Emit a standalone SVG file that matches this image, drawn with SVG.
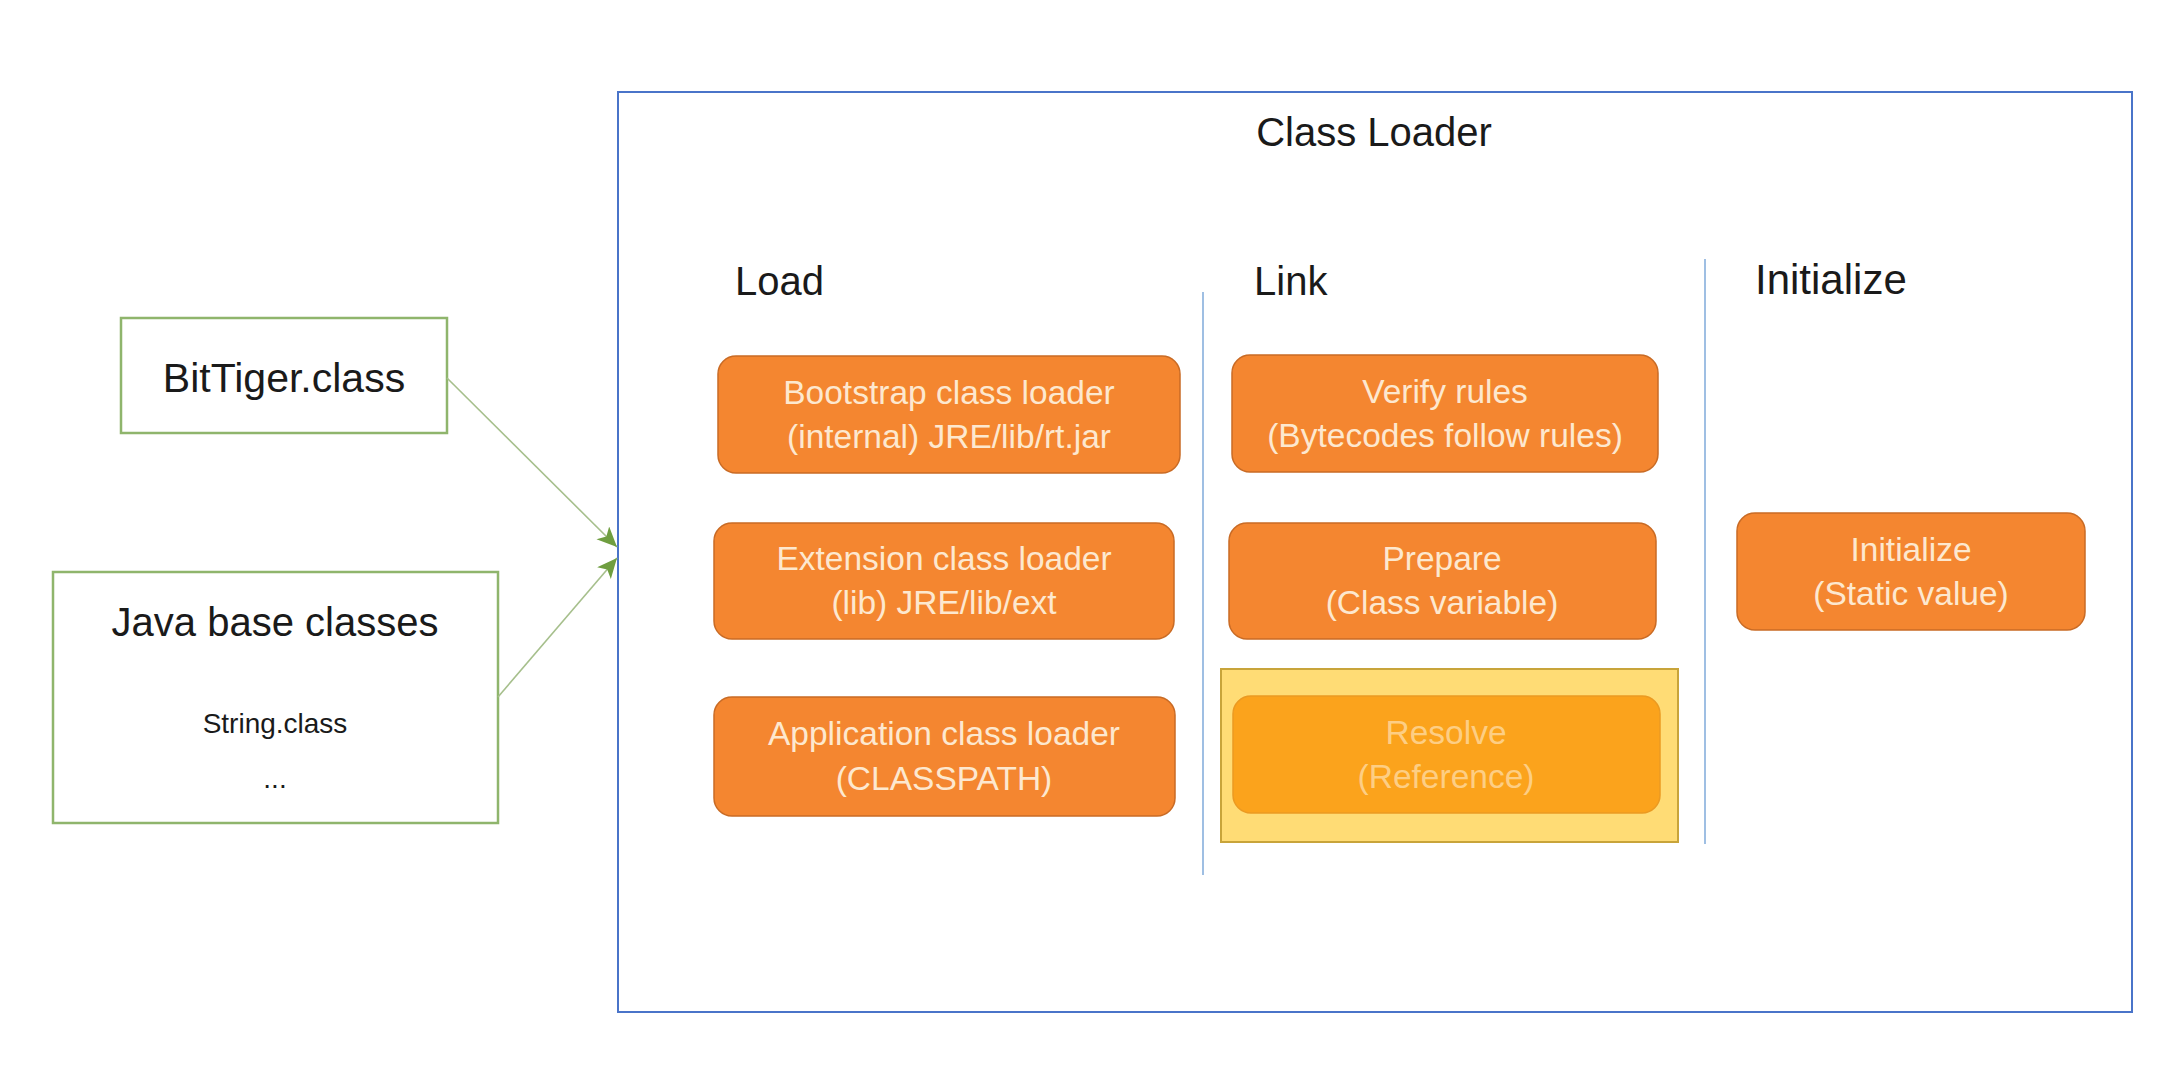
<svg xmlns="http://www.w3.org/2000/svg" width="2158" height="1066" viewBox="0 0 2158 1066">
<defs>
<style>
.src{fill:#ffffff;stroke:#8fb56c;stroke-width:2.5}
.big{font-family:"Liberation Sans",Arial,sans-serif;fill:#1a1a1a;text-anchor:middle}
.hdr{font-family:"Liberation Sans",Arial,sans-serif;fill:#1a1a1a;font-size:40px}
.step{fill:#f48630;stroke:#c96b25;stroke-width:1.5}
.stxt{font-family:"Liberation Sans",Arial,sans-serif;font-size:33.5px;fill:#fde8cf;text-anchor:middle}
.div{stroke:#9fbfe3;stroke-width:2}
.conn{stroke:#a6bf8c;stroke-width:1.6;fill:none}
</style>
<marker id="ah" markerUnits="userSpaceOnUse" markerWidth="22" markerHeight="20" refX="20" refY="9" orient="auto">
<path d="M0,0 L20,9 L0,18 L5,9 Z" fill="#6f9e40"/>
</marker>
</defs>
<rect width="2158" height="1066" fill="#ffffff"/>

<g id="class-loader">
<rect x="618" y="92" width="1514" height="920" fill="#ffffff" stroke="#4a74c9" stroke-width="2"/>
<text class="big" x="1374" y="146" font-size="40">Class Loader</text>
</g>

<g id="headers">
<text class="hdr" x="735" y="295">Load</text>
<text class="hdr" x="1254" y="295">Link</text>
<text class="hdr" x="1755" y="294" style="font-size:42px">Initialize</text>
<line class="div" x1="1203" y1="292" x2="1203" y2="875"/>
<line class="div" x1="1705" y1="259" x2="1705" y2="844"/>
</g>

<g id="bittiger">
<rect class="src" x="121" y="318" width="326" height="115"/>
<text class="big" x="284" y="392" font-size="41">BitTiger.class</text>
</g>

<g id="java-base">
<rect class="src" x="53" y="572" width="445" height="251"/>
<text class="big" x="275" y="636" font-size="40">Java base classes</text>
<text class="big" x="275" y="733" font-size="28">String.class</text>
<text class="big" x="275" y="788" font-size="28">...</text>
</g>

<g id="connectors">
<line class="conn" x1="447" y1="378" x2="617" y2="547" marker-end="url(#ah)"/>
<line class="conn" x1="498" y1="697" x2="617" y2="558" marker-end="url(#ah)"/>
</g>

<g id="bootstrap">
<rect class="step" x="718" y="356" width="462" height="117" rx="18"/>
<text class="stxt" x="949" y="404">Bootstrap class loader</text>
<text class="stxt" x="949" y="448">(internal) JRE/lib/rt.jar</text>
</g>

<g id="extension">
<rect class="step" x="714" y="523" width="460" height="116" rx="18"/>
<text class="stxt" x="944" y="570">Extension class loader</text>
<text class="stxt" x="944" y="614">(lib) JRE/lib/ext</text>
</g>

<g id="application">
<rect class="step" x="714" y="697" width="461" height="119" rx="18"/>
<text class="stxt" x="944" y="745">Application class loader</text>
<text class="stxt" x="944" y="790">(CLASSPATH)</text>
</g>

<g id="verify">
<rect class="step" x="1232" y="355" width="426" height="117" rx="18"/>
<text class="stxt" x="1445" y="403">Verify rules</text>
<text class="stxt" x="1445" y="447">(Bytecodes follow rules)</text>
</g>

<g id="prepare">
<rect class="step" x="1229" y="523" width="427" height="116" rx="18"/>
<text class="stxt" x="1442" y="570">Prepare</text>
<text class="stxt" x="1442" y="614">(Class variable)</text>
</g>

<g id="resolve">
<rect x="1221" y="669" width="457" height="173" fill="#ffdc75" stroke="#c8a43a" stroke-width="2"/>
<rect x="1233" y="696" width="427" height="117" rx="18" fill="#fba31c" stroke="#eb9a22" stroke-width="1.5"/>
<text class="stxt" x="1446" y="744" style="fill:#fdce84">Resolve</text>
<text class="stxt" x="1446" y="788" style="fill:#fdce84">(Reference)</text>
</g>

<g id="initialize">
<rect class="step" x="1737" y="513" width="348" height="117" rx="18"/>
<text class="stxt" x="1911" y="561">Initialize</text>
<text class="stxt" x="1911" y="605">(Static value)</text>
</g>
</svg>
